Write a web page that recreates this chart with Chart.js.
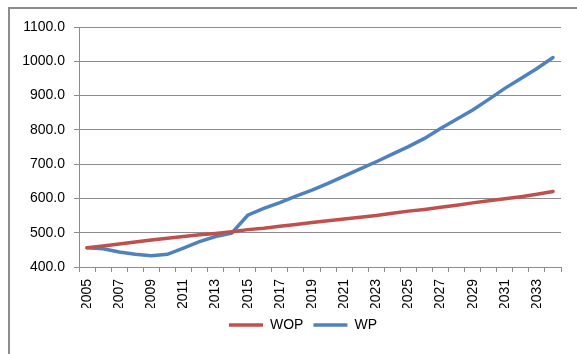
<!DOCTYPE html>
<html>
<head>
<meta charset="utf-8">
<script src="https://cdn.jsdelivr.net/npm/chart.js@4/dist/chart.umd.min.js"></script>
<style>
  html, body { margin: 0; padding: 0; background: #fff; overflow: hidden; }
  #wrap { position: relative; width: 577px; height: 354px; }
  #frame { position: absolute; left: 8px; top: 7px; width: 600px; height: 400px;
           border-left: 2px solid #8c8c8c; border-top: 2px solid #8c8c8c; }
  canvas { position: absolute; left: 0; top: 0; }
</style>
</head>
<body>
<div id="wrap">
  <div id="frame"></div>
  <canvas id="myChart" width="577" height="354"></canvas>
</div>
<script>
const ctx = document.getElementById('myChart').getContext('2d');

// years on the category axis
const years = [];
for (let y = 2005; y <= 2034; y++) years.push(String(y));

// values
const wop = [456, 461, 467, 473, 479, 484, 489, 494, 498, 503,
             509, 513, 519, 524, 530, 535, 540, 545, 550, 557,
             563, 568, 574, 580, 587, 593, 599, 605, 612, 620];
const wp = [456, 453, 444, 437, 433, 437, 455, 474, 489, 499,
            551, 571, 588, 607, 624, 644, 665, 686, 707, 729,
            751, 775, 804, 831, 858, 889, 921, 950, 979, 1011];

const yTicks = [400, 500, 600, 700, 800, 900, 1000, 1100];

Chart.defaults.font.family = "Liberation Sans";
Chart.defaults.font.size = 14;
Chart.defaults.color = '#000';

const gridGray = '#8c8c8c';

// excel centres the legend a bit right of the canvas middle
const legendShift = {
  id: 'legendShift',
  afterLayout(chart) {
    if (chart.legend) {
      chart.legend.left += 15;
      chart.legend.right += 15;
    }
  }
};

const myChart = new Chart(ctx, {
  type: 'line',
  data: {
    labels: years,
    datasets: [
      {
        label: 'WOP',
        data: wop,
        borderColor: '#C0504D',
        backgroundColor: '#C0504D',
        borderWidth: 3.5,
        borderCapStyle: 'round',
        pointStyle: 'line',
        tension: 0
      },
      {
        label: 'WP',
        data: wp,
        borderColor: '#4F81BD',
        backgroundColor: '#4F81BD',
        borderWidth: 3.5,
        borderCapStyle: 'round',
        pointStyle: 'line',
        tension: 0
      }
    ]
  },
  plugins: [legendShift],
  options: {
    responsive: false,
    animation: false,
    layout: {
      padding: { left: 9, right: 10, top: 27, bottom: 12 }
    },
    elements: {
      point: { radius: 0 }
    },
    plugins: {
      tooltip: { enabled: false },
      legend: {
        position: 'bottom',
        labels: {
          usePointStyle: true,
          pointStyleWidth: 34,
          boxHeight: 14,
          padding: 10,
          color: '#000'
        }
      }
    },
    scales: {
      x: {
        offset: true,
        afterFit: (s) => { s.height = 41; },
        border: { color: gridGray, width: 1 },
        grid: {
          offset: true,
          drawOnChartArea: false,
          tickLength: 5,
          color: gridGray
        },
        ticks: {
          autoSkip: false,
          maxRotation: 90,
          minRotation: 90,
          padding: 7,
          callback: function(val, index) {
            return index % 2 === 0 ? years[index] : '';
          }
        }
      },
      y: {
        min: yTicks[0],
        max: yTicks[yTicks.length - 1],
        afterFit: (s) => { s.width = 70; },
        border: { color: gridGray, width: 1 },
        grid: {
          color: gridGray,
          tickLength: 5
        },
        ticks: {
          stepSize: 100,
          padding: 9,
          callback: function(val) {
            return val.toFixed(1);
          }
        }
      }
    }
  }
});
</script>
</body>
</html>
